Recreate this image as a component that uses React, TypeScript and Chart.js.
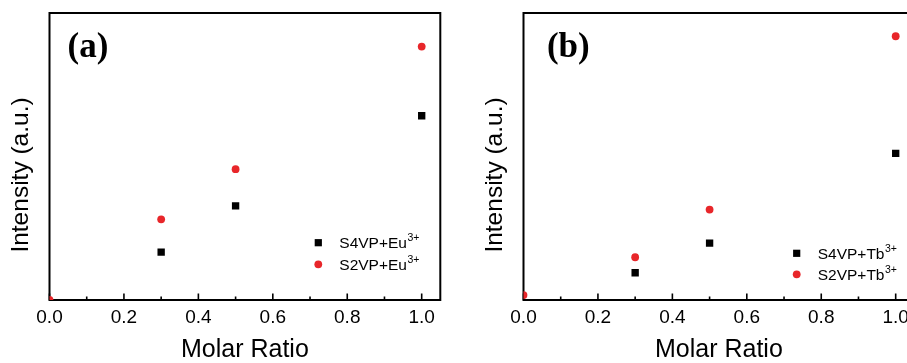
import React, { useEffect, useRef } from 'react';
import { Chart, registerables } from 'chart.js';

Chart.register(...registerables);

// ---- data ----
const xTickValues = [0, 0.2, 0.4, 0.6, 0.8, 1.0];
const xTickLabels = ['0.0', '0.2', '0.4', '0.6', '0.8', '1.0'];
const xMinorTicks = [0.1, 0.3, 0.5, 0.7, 0.9];

const euS4VPRatio = [0.3, 0.5, 1.0];
const euS4VPIntensity = [16.7, 32.8, 64.2];
const euS2VPRatio = [0, 0.3, 0.5, 1.0];
const euS2VPIntensity = [0, 28.1, 45.6, 88.3];

const tbS4VPRatio = [0.3, 0.5, 1.0];
const tbS4VPIntensity = [9.5, 19.8, 51.1];
const tbS2VPRatio = [0, 0.3, 0.5, 1.0];
const tbS2VPIntensity = [1.7, 14.9, 31.5, 91.9];

const panelLabels = ['(a)', '(b)'];
const euLegend = ['S4VP+Eu', 'S2VP+Eu'];
const tbLegend = ['S4VP+Tb', 'S2VP+Tb'];
const ionCharge = '3+';
const xTitle = 'Molar Ratio';
const yTitle = 'Intensity (a.u.)';

const SANS = '"Liberation Sans", Arial, sans-serif';
const SERIF = '"Liberation Serif", "Times New Roman", serif';
const RED = '#e8262a';
const BLACK = '#000000';

type PanelProps = {
  left: number;
  label: string;
  labelDx: number;
  s4x: number[];
  s4y: number[];
  s2x: number[];
  s2y: number[];
  names: string[];
  legendX: number;
  legendY: number[];
};

function Panel(p: PanelProps) {
  const ref = useRef<HTMLCanvasElement | null>(null);

  useEffect(() => {
    if (!ref.current) return;
    const decor = {
      id: 'decor',
      beforeDatasetsDraw(chart: any) {
        const { ctx, chartArea: a, scales } = chart;
        const xs = scales.x;
        ctx.save();
        // frame
        ctx.strokeStyle = BLACK;
        ctx.lineWidth = 2;
        ctx.strokeRect(a.left, a.top, a.right - a.left, a.bottom - a.top);
        // inward ticks on bottom axis
        ctx.lineWidth = 1.6;
        ctx.beginPath();
        xTickValues.forEach((v) => {
          const px = xs.getPixelForValue(v);
          ctx.moveTo(px, a.bottom);
          ctx.lineTo(px, a.bottom - 6.5);
        });
        xMinorTicks.forEach((v) => {
          const px = xs.getPixelForValue(v);
          ctx.moveTo(px, a.bottom);
          ctx.lineTo(px, a.bottom - 3.5);
        });
        ctx.stroke();

        // y title
        ctx.fillStyle = BLACK;
        ctx.save();
        ctx.font = `24.5px ${SANS}`;
        ctx.translate(a.left - 28, a.top + 162);
        ctx.rotate(-Math.PI / 2);
        ctx.textAlign = 'center';
        ctx.textBaseline = 'middle';
        ctx.fillText(yTitle, 0, 0);
        ctx.restore();

        // panel label
        ctx.font = `bold 35px ${SERIF}`;
        ctx.textAlign = 'left';
        ctx.textBaseline = 'alphabetic';
        ctx.fillText(p.label, a.left + p.labelDx, 57);

        // legend
        const fs = 15.5;
        p.names.forEach((name, i) => {
          const cy = p.legendY[i];
          if (i === 0) {
            ctx.fillStyle = BLACK;
            ctx.fillRect(p.legendX - 3.6, cy - 3.6, 7.2, 7.2);
          } else {
            ctx.fillStyle = RED;
            ctx.beginPath();
            ctx.arc(p.legendX, cy, 3.9, 0, Math.PI * 2);
            ctx.fill();
          }
          ctx.fillStyle = BLACK;
          ctx.font = `${fs}px ${SANS}`;
          const tx = p.legendX + 21;
          const base = cy + 5.5;
          ctx.fillText(name, tx, base);
          const w = ctx.measureText(name).width;
          ctx.font = `10.5px ${SANS}`;
          ctx.fillText(ionCharge, tx + w + 0.5, cy - 1.8);
        });
        ctx.restore();
      },
    };

    const chart = new Chart(ref.current, {
      type: 'scatter',
      data: {
        datasets: [
          {
            label: p.names[0],
            data: p.s4x.map((x, i) => ({ x, y: p.s4y[i] })),
            pointStyle: 'rect',
            pointRadius: 5.2,
            backgroundColor: BLACK,
            borderWidth: 0,
          },
          {
            label: p.names[1],
            data: p.s2x.map((x, i) => ({ x, y: p.s2y[i] })),
            pointStyle: 'circle',
            pointRadius: 3.9,
            backgroundColor: RED,
            borderWidth: 0,
          },
        ],
      },
      options: {
        responsive: false,
        animation: false,
        devicePixelRatio: 1,
        layout: { padding: { top: 13, right: 19.7, left: 0, bottom: 0 } },
        plugins: { legend: { display: false }, tooltip: { enabled: false } },
        scales: {
          x: {
            type: 'linear',
            min: 0,
            max: 1.05,
            grid: { display: false, drawTicks: false },
            border: { display: false },
            afterBuildTicks: (s: any) => {
              s.ticks = xTickValues.map((v) => ({ value: v }));
            },
            afterFit: (s: any) => {
              s.height = 63;
            },
            ticks: {
              padding: 6.5,
              color: BLACK,
              font: { family: SANS, size: 19 },
              maxRotation: 0,
              autoSkip: false,
              callback: (v: any) => {
                const idx = xTickValues.findIndex((t) => Math.abs(t - Number(v)) < 1e-9);
                return idx >= 0 ? xTickLabels[idx] : '';
              },
            },
            title: {
              display: true,
              text: xTitle,
              color: BLACK,
              font: { family: SANS, size: 25 },
              padding: { top: 0, bottom: -2.5 },
            },
          },
          y: {
            type: 'linear',
            min: 0,
            max: 100,
            grid: { display: false, drawTicks: false },
            border: { display: false },
            ticks: { display: false },
            afterFit: (s: any) => {
              s.width = 49.5;
            },
          },
        },
      } as any,
      plugins: [decor],
    });
    return () => chart.destroy();
  }, []);

  return (
    <canvas
      ref={ref}
      width={460}
      height={363}
      style={{ position: 'absolute', left: p.left, top: 0, width: 460, height: 363 }}
    />
  );
}

export default function App() {
  return (
    <div
      style={{
        position: 'absolute',
        left: 0,
        top: 0,
        width: 907,
        height: 363,
        overflow: 'hidden',
        background: '#ffffff',
      }}
    >
      <Panel
        left={0}
        label={panelLabels[0]}
        labelDx={18}
        s4x={euS4VPRatio}
        s4y={euS4VPIntensity}
        s2x={euS2VPRatio}
        s2y={euS2VPIntensity}
        names={euLegend}
        legendX={318.3}
        legendY={[242.7, 264.3]}
      />
      <Panel
        left={474}
        label={panelLabels[1]}
        labelDx={23.4}
        s4x={tbS4VPRatio}
        s4y={tbS4VPIntensity}
        s2x={tbS2VPRatio}
        s2y={tbS2VPIntensity}
        names={tbLegend}
        legendX={322.7}
        legendY={[253.3, 274.3]}
      />
    </div>
  );
}
